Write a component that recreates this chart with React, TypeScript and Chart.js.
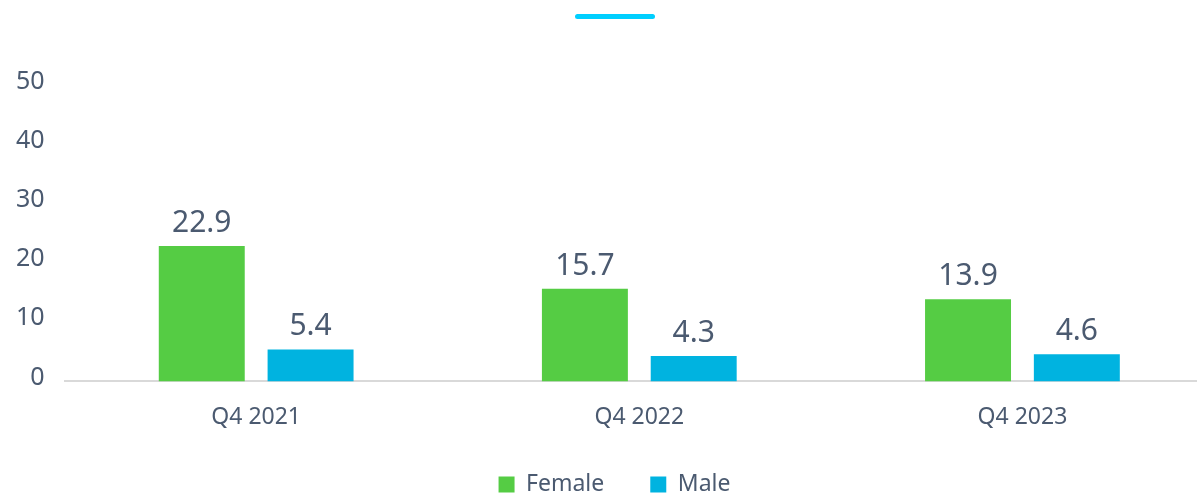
import React, { useEffect, useRef } from "react";
import { Chart, registerables } from "chart.js";

Chart.register(...registerables);

const categories = ["Q4 2021", "Q4 2022", "Q4 2023"];
const femaleValues = [22.9, 15.7, 13.9];
const maleValues = [5.4, 4.3, 4.6];
const yTicks = [0, 10, 20, 30, 40, 50];

const TEXT = "#4b5a70";
const FONT = "'Noto Sans', sans-serif";

const valueLabels = {
  id: "valueLabels",
  afterDatasetsDraw(chart: any) {
    const ctx = chart.ctx;
    ctx.save();
    ctx.fillStyle = TEXT;
    ctx.font = `30px ${FONT}`;
    ctx.textAlign = "center";
    ctx.textBaseline = "alphabetic";
    chart.data.datasets.forEach((ds: any, i: number) => {
      const meta = chart.getDatasetMeta(i);
      meta.data.forEach((bar: any, j: number) => {
        ctx.fillText(String(ds.data[j]), bar.x, bar.y - 14);
      });
    });
    ctx.restore();
  },
};

// layout tweaks: legend pulled up toward the axis labels, category axis runs past the right edge
const layoutTweaks = {
  id: "layoutTweaks",
  afterLayout(chart: any) {
    if (chart.legend) {
      chart.legend.top -= 18;
      chart.legend.bottom -= 18;
      chart.legend.left += 14;
      chart.legend.right += 14;
    }
    const x = chart.scales.x;
    if (x) {
      x.right += 17;
      x.width += 17;
      x.configure();
    }
  },
};

export default function App() {
  const ref = useRef<HTMLCanvasElement>(null);
  useEffect(() => {
    document.body.style.margin = "0";
    const chart = new Chart(ref.current!, {
      type: "bar",
      data: {
        labels: categories,
        datasets: [
          { label: "Female", data: femaleValues, backgroundColor: "#55cc44" },
          { label: "Male", data: maleValues, backgroundColor: "#00b3e0" },
        ],
      },
      options: {
        animation: false,
        responsive: false,
        layout: { padding: { top: 86, right: 0, left: 4, bottom: -30 } },
        datasets: {
          bar: { categoryPercentage: 0.568, barPercentage: 0.79 },
        },
        scales: {
          x: {
            grid: { display: false },
            border: { display: true, color: "#d9d9d9", width: 2 },
            ticks: { color: TEXT, font: { family: FONT, size: 23 }, padding: 14 },
          },
          y: {
            min: 0,
            max: 50,
            afterBuildTicks: (axis: any) => {
              axis.ticks = yTicks.map((v) => ({ value: v }));
            },
            grid: { display: false },
            border: { display: false },
            ticks: {
              color: TEXT,
              font: { family: FONT, size: 25 },
              padding: 12,
              labelOffset: -4,
            },
          },
        },
        plugins: {
          legend: {
            position: "bottom",
            labels: {
              color: TEXT,
              font: { family: FONT, size: 23 },
              boxWidth: 16,
              boxHeight: 16,
              padding: 46,
            },
          },
          tooltip: { enabled: false },
        },
      },
      plugins: [valueLabels, layoutTweaks],
    });
    return () => chart.destroy();
  }, []);
  return (
    <div style={{ position: "relative", width: 1197, height: 494 }}>
      <div
        style={{
          position: "absolute",
          left: 575,
          top: 14,
          width: 80,
          height: 5,
          borderRadius: 3,
          background: "#00cfff",
        }}
      />
      <canvas ref={ref} width={1197} height={494} style={{ display: "block" }} />
    </div>
  );
}
